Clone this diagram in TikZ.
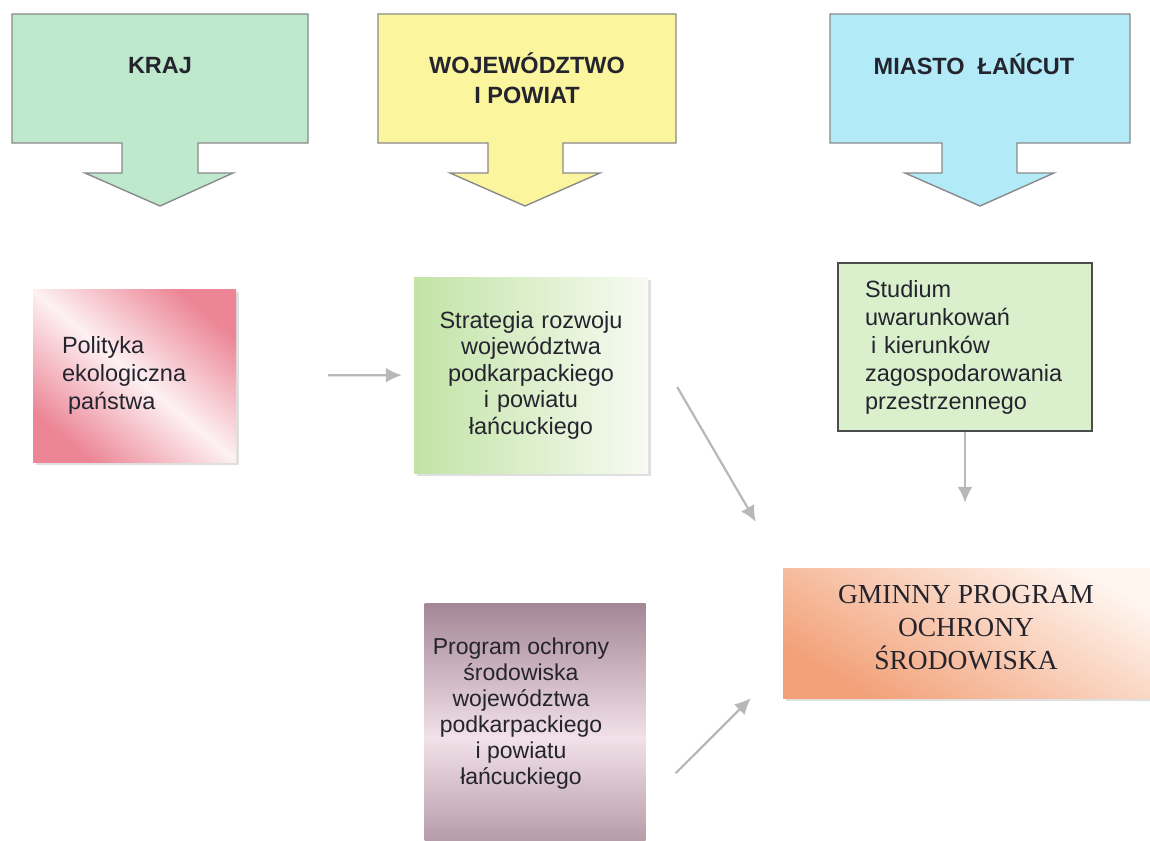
\documentclass[tikz,border=0pt]{standalone}
\usepackage{fontspec}
\setmainfont{Liberation Sans}
\newfontfamily\timesfont{Liberation Serif}
\usetikzlibrary{arrows.meta,shadows}
\definecolor{krajkolor}{HTML}{BFE9CD}
\definecolor{wojkolor}{HTML}{FBF59E}
\definecolor{miastokolor}{HTML}{B3EAF8}
\definecolor{ramka}{HTML}{8A8A8A}
\definecolor{tekst}{HTML}{24242E}
\definecolor{strzalka}{HTML}{B8B8B8}
\definecolor{rozowy}{HTML}{EC8696}
\definecolor{rozowyjasny}{HTML}{FDF1F3}
\definecolor{zielony}{HTML}{C2E3A6}
\definecolor{zielonyjasny}{HTML}{F7FBF2}
\definecolor{studiumkolor}{HTML}{DAF0CC}
\definecolor{fiolet}{HTML}{A48696}
\definecolor{fioletjasny}{HTML}{F2E1E8}
\definecolor{pomarancz}{HTML}{F2A077}
\definecolor{pomaranczjasny}{HTML}{FFF6F0}

\begin{document}
\begin{tikzpicture}[x=1pt,y=-1pt,
  blok/.style={draw=ramka, line width=1.4pt},
  naglowek/.style={font=\fontsize{23.5}{30}\selectfont\bfseries, text=tekst, align=center},
  opis/.style={font=\fontsize{23.5}{28}\selectfont, text=tekst},
  cien/.style={drop shadow={shadow xshift=3pt, shadow yshift=-3pt, opacity=0.25}},
  polaczenie/.style={draw=strzalka, line width=2.2pt, -{Latex[length=16pt,width=15pt]}}]
\fill[white] (0,0) rectangle (1150,840);
\useasboundingbox (0,0) rectangle (1150,840);

\filldraw[blok, fill=krajkolor] (12,14) -- (308,14) -- (308,143) -- (198,143) -- (198,173) -- (233,173) -- (160,206) -- (85,173) -- (122,173) -- (122,143) -- (12,143) -- cycle;
\filldraw[blok, fill=wojkolor] (378,14) -- (676,14) -- (676,143) -- (563,143) -- (563,173) -- (600,173) -- (525,206) -- (450,173) -- (488,173) -- (488,143) -- (378,143) -- cycle;
\filldraw[blok, fill=miastokolor] (830,14) -- (1130,14) -- (1130,143) -- (1017,143) -- (1017,173) -- (1054,173) -- (980,206) -- (905,173) -- (942,173) -- (942,143) -- (830,143) -- cycle;
\node[naglowek] (kraj) at (160,66) {KRAJ};
\node[naglowek] (wojewodztwo) at (527,78) {WOJEWÓDZTWO\\I POWIAT};
\node[naglowek] (miasto) at (974,64) {MIASTO~~ŁAŃCUT};

\node[opis, cien, minimum width=203, minimum height=173, inner xsep=29pt, text width=145pt, align=left,
  top color=rozowy, bottom color=rozowy, middle color=rozowyjasny, shading angle=-40] (polityka) at (134.5,375.5)
  {Polityka\\ekologiczna\\\hspace{6pt}państwa};
\node[opis, cien, font=\fontsize{23.5}{26.5}\selectfont, minimum width=234, minimum height=196, text width=216pt, inner xsep=9pt, align=center,
  left color=zielony, right color=zielonyjasny] (strategia) at (531,375)
  {Strategia rozwoju\\województwa\\podkarpackiego\\i powiatu\\łańcuckiego};
\node[opis, draw=black!70, line width=1.4pt, fill=studiumkolor, minimum width=254, minimum height=168,
  inner xsep=27pt, text width=200pt, align=left] (studium) at (965,347)
  {Studium\\uwarunkowań\\\hspace{6pt}i kierunków\\zagospodarowania\\przestrzennego};
\node[minimum width=221, minimum height=270, anchor=north,
  top color=fiolet, bottom color=fiolet, middle color=fioletjasny] (program) at (535,603) {};
\node[opis, font=\fontsize{23}{26}\selectfont, align=center] (programtekst) at (521,714)
  {Program ochrony\\środowiska\\województwa\\podkarpackiego\\i powiatu\\łańcuckiego};
\node[cien, minimum width=380, minimum height=130,
  top color=pomaranczjasny, bottom color=pomarancz, shading angle=-30] (gminny) at (973,633) {};
\node[align=center, text=tekst, font=\timesfont\fontsize{27.5}{33}\selectfont] (gminnytekst) at (966,628)
  {GMINNY PROGRAM\\OCHRONY\\ŚRODOWISKA};

\draw[polaczenie, shorten <=92pt, shorten >=12pt] (polityka) -- (strategia);
\draw[polaczenie] ([xshift=29pt,yshift=-12pt]strategia.east) -- ([xshift=-27pt,yshift=46pt]gminny.north west);
\draw[polaczenie, shorten >=65pt] (studium.south) -- (studium.south |- gminny.north);
\draw[polaczenie] ([xshift=30pt,yshift=-35pt]program.east) -- ([xshift=-32pt]gminny.south west);
\end{tikzpicture}
\end{document}
